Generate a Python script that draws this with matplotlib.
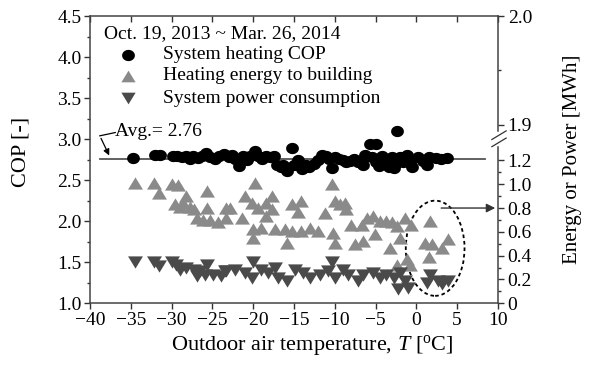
import numpy as np
import matplotlib
matplotlib.use('Agg')
import matplotlib.pyplot as plt
from matplotlib.patches import Ellipse
from matplotlib.ticker import MultipleLocator, FixedLocator, FormatStrFormatter

plt.rcParams['font.family'] = ['Liberation Serif', 'DejaVu Serif']
plt.rcParams['mathtext.fontset'] = 'custom'
plt.rcParams['mathtext.rm'] = 'Liberation Serif'
plt.rcParams['mathtext.it'] = 'Liberation Serif:italic'

# System heating COP (outdoor temp [C], COP [-])
cop_t = [-34.7, -32.0, -31.4, -29.8, -29.3, -28.7, -28.2, -27.8, -27.4, -26.8, -26.3, -25.8, -25.3,
         -24.7, -24.2, -23.6, -23.0, -22.6, -22.2, -21.8, -21.3, -20.8, -20.4, -19.8, -19.4, -18.9,
         -18.4, -17.9, -17.4, -17.1, -16.6, -16.3, -15.9, -15.3, -15.0, -14.5, -14.0, -13.5, -13.1,
         -12.5, -12.0, -11.6, -11.1, -10.7, -10.4, -10.0, -9.5, -9.0, -8.6, -8.1, -7.6, -7.1, -6.6,
         -6.3, -5.7, -5.4, -5.0, -4.9, -4.6, -4.2, -3.8, -3.4, -3.0, -2.6, -2.4, -2.0, -1.6, -1.2,
         -0.9, -0.5, 0.2, 0.8, 1.3, 1.6, 2.4, 3.0, 3.7, -2.8, -0.8, -6.3]
cop_v = [2.77, 2.81, 2.81, 2.79, 2.80, 2.78, 2.80, 2.76, 2.79, 2.77, 2.80, 2.83, 2.78,
         2.76, 2.79, 2.82, 2.78, 2.81, 2.76, 2.67, 2.79, 2.75, 2.80, 2.85, 2.79, 2.76,
         2.80, 2.78, 2.79, 2.69, 2.66, 2.69, 2.61, 2.89, 2.68, 2.74, 2.64, 2.68, 2.66,
         2.70, 2.75, 2.81, 2.80, 2.76, 2.65, 2.78, 2.76, 2.74, 2.72, 2.73, 2.76, 2.72, 2.68,
         2.78, 2.94, 2.78, 2.72, 2.94, 2.67, 2.79, 2.73, 2.66, 2.78, 2.70, 3.10, 2.78, 2.72, 2.81,
         2.75, 2.66, 2.78, 2.73, 2.69, 2.78, 2.77, 2.76, 2.77, 2.65, 2.71, 2.81]

# Heating energy to building [MWh]
heat_t = [-34.5, -32.2, -31.6, -30.0, -29.2, -28.2, -29.6, -29.0, -28.6, -27.7, -27.3, -26.9, -26.1,
          -25.7, -25.7, -25.3, -24.3, -23.3, -23.3, -22.8, -21.4, -21.0, -20.2, -19.8, -19.4, -18.4,
          -17.7, -17.7, -18.4, -20.0, -20.0, -19.0, -17.3, -16.1, -15.9, -15.3, -14.5, -14.1, -15.3,
          -14.1, -13.0, -12.0, -11.2, -10.4, -10.0, -9.4, -8.8, -8.6, -10.2, -10.0, -8.0, -7.5, -6.7,
          -6.5, -6.1, -5.3, -4.5, -3.7, -3.0, -2.4, -2.0, -1.4, -0.6, -5.1, -3.2, -2.4, -1.2, -0.8,
          1.7, 1.1, 1.9, 3.1, 3.9, 1.5]
heat_v = [1.01, 1.01, 0.93, 1.00, 0.99, 0.90, 0.83, 0.81, 0.84, 0.81, 0.79, 0.72, 0.70,
          0.94, 0.80, 0.70, 0.68, 0.72, 0.80, 0.80, 0.72, 0.90, 0.84, 1.01, 0.80, 0.84,
          0.90, 0.79, 0.73, 0.62, 0.55, 0.63, 0.62, 0.62, 0.51, 0.83, 0.77, 0.86, 0.61,
          0.61, 0.63, 0.61, 0.76, 1.00, 0.86, 0.83, 0.84, 0.79, 0.59, 0.51, 0.66, 0.50, 0.66,
          0.52, 0.72, 0.73, 0.69, 0.69, 0.68, 0.65, 0.55, 0.72, 0.66, 0.58, 0.46, 0.32, 0.37, 0.32,
          0.69, 0.51, 0.50, 0.46, 0.54, 0.39]

# System power consumption [MWh]
pow_t = [-34.5, -32.2, -31.6, -30.0, -29.4, -29.0, -28.2, -27.3, -26.5, -25.7, -25.9, -24.9, -23.9,
         -26.9, -23.3, -23.5, -22.2, -21.0, -20.0, -20.2, -19.0, -18.2, -17.3, -16.9, -15.9, -14.9,
         -13.9, -13.0, -11.8, -10.8, -10.4, -10.0, -9.0, -8.4, -7.1, -6.5, -5.3, -4.5, -3.7, -2.8,
         -2.2, -1.4, -1.0, -2.0, 1.7, 1.3, 3.1, 3.9, 2.7]
pow_v = [0.35, 0.35, 0.31, 0.35, 0.32, 0.28, 0.30, 0.28, 0.27, 0.32, 0.24, 0.24, 0.23,
         0.23, 0.27, 0.27, 0.28, 0.25, 0.35, 0.21, 0.28, 0.25, 0.30, 0.21, 0.19, 0.28,
         0.25, 0.21, 0.24, 0.27, 0.35, 0.21, 0.28, 0.24, 0.19, 0.24, 0.25, 0.21, 0.24, 0.21,
         0.12, 0.19, 0.13, 0.25, 0.24, 0.17, 0.16, 0.19, 0.19]

avg_cop = 2.76
right_low = [0, 0.2, 0.4, 0.6, 0.8, 1.0, 1.2]
right_high = [1.9, 2.0]


def to_cop(v):
    # lower part of the broken right axis: 0 MWh at COP 1.0
    return 1.0 + np.asarray(v) * 1.45


def to_cop_high(v):
    # upper part of the broken right axis
    return 3.175 + (np.asarray(v) - 1.9) * 13.25


# slightly flattened markers like the original figure
t = np.linspace(0, 2 * np.pi, 40)
m_circ = list(zip(np.cos(t), 0.88 * np.sin(t)))
m_up = [(0, 0.82), (-1, -0.82), (1, -0.82), (0, 0.82)]
m_dn = [(0, -0.82), (-1, 0.82), (1, 0.82), (0, -0.82)]
c_heat = '#8a8a8a'
c_pow = '#4a4a4a'

fig = plt.figure(figsize=(5.91, 3.68), dpi=100)
ax = fig.add_axes([0.1523, 0.176, 0.6903, 0.7805])

ax.scatter(heat_t, to_cop(heat_v), marker=m_up, s=115, color=c_heat, lw=0, zorder=3)
ax.scatter(pow_t, to_cop(pow_v), marker=m_dn, s=115, color=c_pow, lw=0, zorder=3)
ax.scatter(cop_t, cop_v, marker=m_circ, s=85, color='black', lw=0, zorder=4)

ax.plot([-38.8, 8.4], [avg_cop, avg_cop], color='#555555', lw=1.3, zorder=2)
ax.plot([-36.9, -38.8], [3.08, 3.04], color='black', lw=0.9)
ax.annotate('', xy=(-37.5, 2.77), xytext=(-38.8, 3.04),
            arrowprops=dict(arrowstyle='-|>', color='black', lw=0.9, mutation_scale=9))
ax.text(-36.9, 3.09, 'Avg.= 2.76', fontsize=14, va='center', ha='left')

ax.add_patch(Ellipse((2.3, 1.67), 7.2, 1.16, fill=False, ls=(0, (2, 1.6)), lw=1.3, color='black'))
ax.annotate('', xy=(10, to_cop(0.8)), xytext=(2.7, to_cop(0.8)),
            arrowprops=dict(arrowstyle='-|>', color='#333333', lw=1.0, mutation_scale=13),
            annotation_clip=False)

# legend built by hand
ax.text(-38.3, 4.28, 'Oct. 19, 2013 ~ Mar. 26, 2014', fontsize=14, va='center')
leg_y = [4.03, 3.77, 3.50]
leg_m = [m_circ, m_up, m_dn]
leg_c = ['black', c_heat, c_pow]
leg_s = [85, 105, 105]
leg_txt = ['System heating COP', 'Heating energy to building', 'System power consumption']
for yy, mk, cc, ss, tt in zip(leg_y, leg_m, leg_c, leg_s, leg_txt):
    ax.scatter([-35.3], [yy], marker=mk, s=ss, color=cc, lw=0)
    ax.text(-31.0, yy, tt, fontsize=14, va='center')

ax.set_xlim(-40, 10)
ax.set_ylim(1.0, 4.5)
ax.xaxis.set_major_locator(MultipleLocator(5))
ax.yaxis.set_major_locator(MultipleLocator(0.5))
ax.yaxis.set_minor_locator(MultipleLocator(0.25))
ax.yaxis.set_major_formatter(FormatStrFormatter('%.1f'))
ax.tick_params(axis='both', labelsize=14, direction='out', length=4, width=1, colors='#333333',
               labelcolor='black', pad=2)
ax.tick_params(axis='y', which='minor', direction='out', length=2.5, width=1, colors='#333333')
for sp in ax.spines.values():
    sp.set_color('#444444')
    sp.set_linewidth(1.1)

# inward ticks on the top spine
top = ax.secondary_xaxis('top')
top.xaxis.set_major_locator(MultipleLocator(5))
top.tick_params(direction='in', length=4, width=1, colors='#333333', labeltop=False)
top.spines['top'].set_visible(False)

ax.set_xlabel(r'Outdoor air temperature, $\it{T}$ [$^{\rm o}$C]', fontsize=16, va='center')
ax.xaxis.set_label_coords(0.544, -0.146)
ax.set_ylabel('COP [-]', fontsize=16, va='center')
ax.yaxis.set_label_coords(-0.170, 0.526)

# secondary (broken) axis on the right
ax2 = ax.twinx()
ax2.set_ylim(1.0, 4.5)
pos = list(to_cop(right_low)) + list(to_cop_high(right_high))
labs = ['0'] + ['%.1f' % v for v in right_low[1:]] + ['%.1f' % v for v in right_high]
ax2.yaxis.set_major_locator(FixedLocator(pos))
ax2.set_yticklabels(labs)
minor_low = [0.1, 0.3, 0.5, 0.7, 0.9, 1.1]
ax2.yaxis.set_minor_locator(FixedLocator(list(to_cop(minor_low)) + list(to_cop_high([1.95]))))
ax2.tick_params(axis='y', labelsize=14, direction='out', length=4, width=1, colors='#333333',
                labelcolor='black', pad=3)
ax2.tick_params(axis='y', which='minor', direction='out', length=2.5, width=1, colors='#333333')
for sp in ax2.spines.values():
    sp.set_visible(False)
ax2.set_ylabel('Energy or Power [MWh]', fontsize=15, va='center')
ax2.yaxis.set_label_coords(1.183, 0.50)

# break mark on the right spine
for dy in (0.0, 0.025):
    ax.plot([0.985, 1.02], [0.545 + dy, 0.575 + dy], transform=ax.transAxes, color='#333333',
            lw=0.9, clip_on=False, zorder=6)
ax.plot([1.0, 1.0], [0.553, 0.592], transform=ax.transAxes, color='white', lw=2.5,
        clip_on=False, zorder=5)

fig.savefig('out.png', dpi=100)
